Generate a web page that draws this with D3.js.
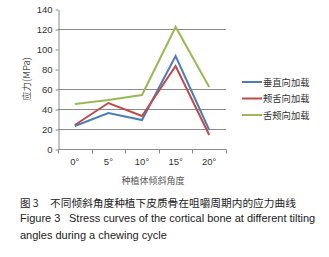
<!DOCTYPE html>
<html>
<head>
<meta charset="utf-8">
<script src="https://cdn.jsdelivr.net/npm/d3@7"></script>
<style>
  body { margin: 0; background: #fff; }
  text { font-family: Arial, "Liberation Sans", sans-serif; }
  .cjk { font-family: "Noto Sans CJK SC", sans-serif; }
</style>
</head>
<body>
<div class="box"></div>
<script>
// data
const angles = ['0°', '5°', '10°', '15°', '20°'];
const seriesNames = ['垂直向加载', '颊舌向加载', '舌颊向加载'];
const vertical = [23, 36, 29, 93, 19];
const buccoLingual = [24, 46, 33, 83, 14];
const linguoBuccal = [45, 49, 54, 122, 62];
const yTicks = [0, 20, 40, 60, 80, 100, 120, 140];
const gridValues = [20, 40, 60, 120];
const colors = ['#4a7ebb', '#be4b48', '#98b954'];

const series = [vertical, buccoLingual, linguoBuccal];

const svg = d3.select('.box')
              .append('svg')
              .attr('width', 329)
              .attr('height', 257);

const margin = {top: 9, left: 58};
const graphWidth = 168;
const graphHeight = 140;

const graph = svg.append('g')
                 .attr('transform', `translate(${margin.left}, ${margin.top})`);

const y = d3.scaleLinear().domain([0, 140]).range([graphHeight, 0]);
const x = d3.scaleBand().domain(angles).range([0, graphWidth]);
const cx = d => x(d) + x.bandwidth() / 2;

// gridlines
graph.selectAll('line.grid')
     .data(gridValues)
     .enter()
     .append('line')
     .attr('x1', 0)
     .attr('x2', graphWidth)
     .attr('y1', d => Math.round(y(d)) + 0.5)
     .attr('y2', d => Math.round(y(d)) + 0.5)
     .attr('stroke', '#8a8a8a')
     .attr('stroke-width', 1);

// axes
const axeY = d3.axisLeft(y).tickValues(yTicks).tickSize(3).tickSizeOuter(0);
const gy = graph.append('g').attr('transform', 'translate(0.5,0.5)').call(axeY);
gy.select('.domain').attr('stroke', '#8a8a8a');
gy.selectAll('.tick line').attr('stroke', '#8a8a8a');
gy.selectAll('.tick text')
  .attr('x', -6)
  .style('font-size', '9.5px')
  .style('font-family', 'Arial, "Liberation Sans", sans-serif')
  .attr('fill', '#333');

const gx = graph.append('g').attr('transform', `translate(0, ${Math.round(graphHeight) + 0.5})`);
gx.append('line').attr('x1', 0).attr('x2', graphWidth).attr('stroke', '#8a8a8a');
gx.selectAll('line.tk')
  .data(d3.range(angles.length + 1))
  .enter()
  .append('line')
  .attr('x1', i => Math.round(i * x.step()) + 0.5)
  .attr('x2', i => Math.round(i * x.step()) + 0.5)
  .attr('y1', 0).attr('y2', 4)
  .attr('stroke', '#8a8a8a');
gx.selectAll('text')
  .data(angles)
  .enter()
  .append('text')
  .attr('x', d => cx(d))
  .attr('y', 15)
  .attr('text-anchor', 'middle')
  .style('font-size', '9.5px')
  .attr('fill', '#333')
  .text(d => d);

// lines
const line = d3.line()
               .x((d, i) => cx(angles[i]))
               .y(d => y(d));

graph.selectAll('path.series')
     .data(series)
     .enter()
     .append('path')
     .attr('d', line)
     .attr('fill', 'none')
     .attr('stroke', (d, i) => colors[i])
     .attr('stroke-width', 2)
     .attr('stroke-linejoin', 'miter');

// axis titles
svg.append('text')
   .attr('class', 'cjk')
   .attr('transform', 'translate(30, 79) rotate(-90)')
   .attr('text-anchor', 'middle')
   .style('font-size', '9.5px')
   .attr('fill', '#555')
   .text('应力(MPa)');

svg.append('text')
   .attr('class', 'cjk')
   .attr('x', 153)
   .attr('y', 184)
   .attr('text-anchor', 'middle')
   .style('font-size', '9px')
   .attr('fill', '#555')
   .text('种植体倾斜角度');

// legend
const legend = svg.selectAll('g.leg')
                  .data(seriesNames)
                  .enter()
                  .append('g')
                  .attr('transform', (d, i) => `translate(242, ${82 + i * 16.5})`);
legend.append('line')
      .attr('x1', 0).attr('x2', 20)
      .attr('stroke', (d, i) => colors[i])
      .attr('stroke-width', 2);
legend.append('text')
      .attr('class', 'cjk')
      .attr('x', 21)
      .attr('y', 3.5)
      .style('font-size', '9.3px')
      .attr('fill', '#333')
      .text(d => d);

// caption
svg.append('text').attr('class', 'cjk').attr('x', 20).attr('y', 207)
   .style('font-size', '10.5px').attr('fill', '#222').text('图 3');
svg.append('text').attr('class', 'cjk').attr('x', 50).attr('y', 207)
   .style('font-size', '10.7px').attr('fill', '#222').text('不同倾斜角度种植下皮质骨在咀嚼周期内的应力曲线');
svg.append('text').attr('x', 20).attr('y', 222)
   .style('font-size', '11px').attr('fill', '#222').text('Figure 3');
svg.append('text').attr('x', 69).attr('y', 222)
   .style('font-size', '11px').attr('fill', '#222').text('Stress curves of the cortical bone at different tilting');
svg.append('text').attr('x', 20).attr('y', 239)
   .style('font-size', '11px').attr('fill', '#222').text('angles during a chewing cycle');
</script>
</body>
</html>
